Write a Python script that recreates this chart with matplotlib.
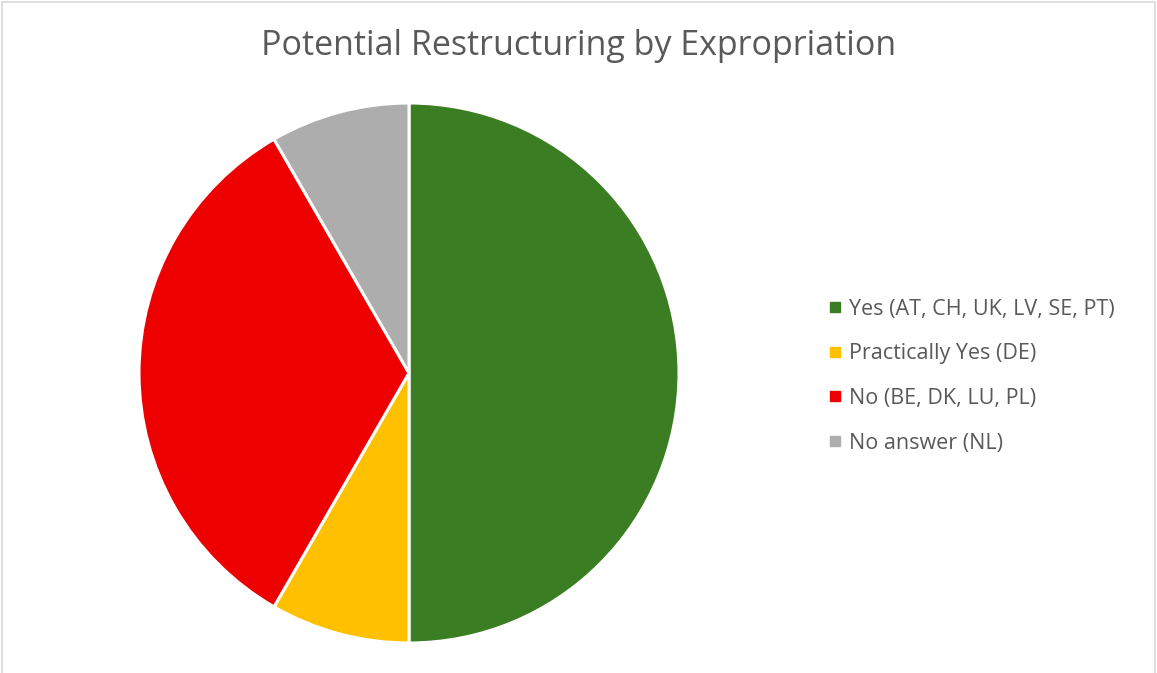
import matplotlib.pyplot as plt
from matplotlib.lines import Line2D
from matplotlib.patches import Rectangle

labels = ["Yes (AT, CH, UK, LV, SE, PT)", "Practically Yes (DE)",
          "No (BE, DK, LU, PL)", "No answer (NL)"]
counts = [6, 1, 4, 1]
colors = ["#3A7D22", "#FFC000", "#EE0000", "#ADADAD"]
title = "Potential Restructuring by Expropriation"

W, H = 1157, 673
fig = plt.figure(figsize=(W / 100, H / 100), dpi=100)
plt.rcParams['font.family'] = ['Open Sans', 'DejaVu Sans']

# pie area in pixel terms: centre and radius
cx, cy, r = 409, 373, 270
ax = fig.add_axes([(cx - r) / W, (H - cy - r) / H, 2 * r / W, 2 * r / H])
ax.pie(counts, colors=colors, startangle=90, counterclock=False,
       wedgeprops=dict(edgecolor="white", linewidth=2.2))
ax.set_xlim(-1, 1)
ax.set_ylim(-1, 1)
ax.set_aspect("equal")
ax.axis("off")

fig.text(579 / W, 1 - 46 / H, title, ha="center", va="center",
         fontsize=24.5, color="#595959")

handles = [Line2D([], [], marker="s", linestyle="none", markersize=6.5,
                  markerfacecolor=c, markeredgecolor=c) for c in colors]
leg = fig.legend(handles, labels, loc="upper left",
                 bbox_to_anchor=(820 / W, 1 - 290 / H), frameon=False,
                 fontsize=15.5, labelcolor="#595959", handlelength=0.55,
                 handletextpad=0.4, labelspacing=1.1, borderaxespad=0)

# light frame around the chart area
fig.patches.append(Rectangle((2 / W, -0.01), (W - 4) / W, 1 - 2 / H + 0.01,
                             transform=fig.transFigure, fill=False,
                             edgecolor="#D9D9D9", linewidth=1.2))

fig.savefig("out.png", dpi=100, facecolor="white")
